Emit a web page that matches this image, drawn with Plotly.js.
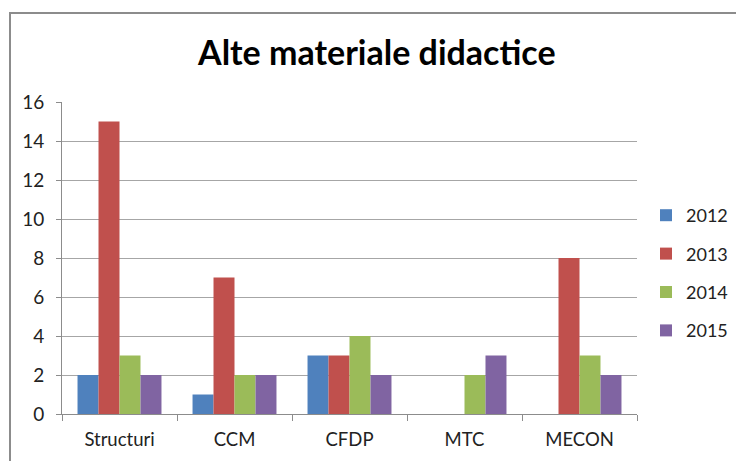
<!DOCTYPE html>
<html>
<head>
<meta charset="utf-8">
<script src="https://cdn.plot.ly/plotly-3.0.1.min.js"></script>
<style>
  html, body { margin: 0; padding: 0; background: #fff; }
  #wrap { position: relative; width: 736px; height: 461px; overflow: hidden; }
  #chart { width: 736px; height: 461px; }
  #frame { position: absolute; left: 9px; top: 12px; width: 800px; height: 500px;
           border: 2px solid #8c8c8c; pointer-events: none; box-sizing: border-box; }
</style>
</head>
<body>
<div id="wrap">
  <div id="chart"></div>
  <div id="frame"></div>
</div>
<script>
const categories = ["Structuri", "CCM", "CFDP", "MTC", "MECON"];
const seriesNames = ["2012", "2013", "2014", "2015"];
const v2012 = [2, 1, 3, 0, 0];
const v2013 = [15, 7, 3, 0, 8];
const v2014 = [3, 2, 4, 2, 3];
const v2015 = [2, 2, 2, 3, 2];
const yTicks = [0, 2, 4, 6, 8, 10, 12, 14, 16];
const colors = ["#4F81BD", "#C0504D", "#9BBB59", "#8064A2"];

const values = [v2012, v2013, v2014, v2015];
const font = "Lato, 'Open Sans', sans-serif";

const traces = values.map((vals, i) => ({
  type: "bar",
  name: seriesNames[i],
  x: categories,
  y: vals,
  marker: { color: colors[i], line: { width: 0 } },
  legendgroup: "g" + i,
  hoverinfo: "x+y+name"
}));

const layout = {
  width: 736,
  height: 461,
  paper_bgcolor: "rgba(0,0,0,0)",
  plot_bgcolor: "#fff",
  margin: { l: 62, r: 99, t: 102, b: 47, autoexpand: false },
  barmode: "group",
  bargap: 0.27,
  bargroupgap: 0,
  showlegend: true,
  title: {
    text: "<b>Alte materiale didactice</b>",
    font: { family: font, size: 34, color: "#000" },
    x: 0.512, xref: "container", xanchor: "center",
    y: 0.885, yref: "container", yanchor: "middle"
  },
  xaxis: {
    type: "category",
    showgrid: false,
    showline: true,
    linecolor: "#8c8c8c",
    linewidth: 1,
    ticks: "outside",
    tickson: "boundaries",
    ticklen: 6,
    tickcolor: "#8c8c8c",
    ticklabelstandoff: 9,
    tickfont: { family: font, size: 18.5, color: "#222" },
    zeroline: false
  },
  yaxis: {
    range: [0, 16],
    tickvals: yTicks,
    ticktext: yTicks.map(String),
    showgrid: true,
    gridcolor: "#a6a6a6",
    gridwidth: 1,
    showline: true,
    linecolor: "#8c8c8c",
    linewidth: 1,
    ticks: "outside",
    ticklen: 5,
    tickcolor: "#8c8c8c",
    ticklabelstandoff: 8,
    tickfont: { family: font, size: 19, color: "#222" },
    zeroline: false,
    fixedrange: true
  },
  legend: {
    xref: "container", yref: "container",
    x: 646 / 736, xanchor: "left",
    y: 1 - 273 / 461, yanchor: "middle",
    font: { family: font, size: 18, color: "#222" },
    tracegroupgap: 12,
    itemwidth: 30,
    bgcolor: "rgba(0,0,0,0)"
  }
};

Plotly.newPlot("chart", traces, layout, { displayModeBar: false, staticPlot: true });
</script>
</body>
</html>
